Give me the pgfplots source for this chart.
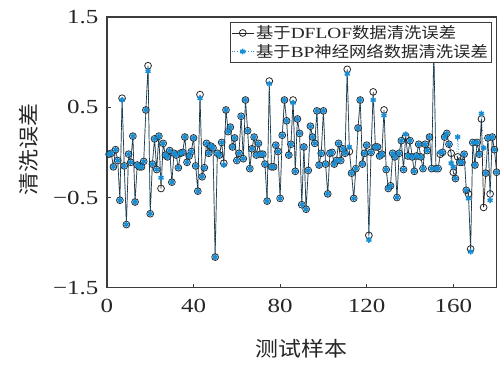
\documentclass[border=0pt]{standalone}
\usepackage{pgfplots}
\pgfplotsset{compat=1.18}
\usepackage{pgfplotstable}
\usepackage{fontspec}
\setmainfont{Liberation Serif}[FakeStretch=1.25]
\newfontfamily\cjk{Noto Sans CJK SC}[FakeStretch=1.12]
\definecolor{axgray}{RGB}{60,60,60}
\definecolor{mblue}{RGB}{25,140,210}
\pgfplotstableread{
x a b
1 -0.02 -0.02
2 -0.01 -0.01
3 -0.16 -0.16
4 0.03 0.03
5 -0.09 -0.09
6 -0.53 -0.53
7 0.60 0.58
8 -0.15 -0.15
9 -0.80 -0.80
10 -0.02 -0.02
11 -0.11 -0.11
12 0.18 0.18
13 -0.55 -0.55
14 -0.14 -0.14
15 -0.16 -0.16
16 -0.16 -0.16
17 -0.10 -0.10
18 0.47 0.47
19 0.96 0.90
20 -0.68 -0.68
21 -0.13 -0.13
22 0.15 0.15
23 -0.19 -0.19
24 0.18 0.18
25 -0.40 -0.28
26 0.10 0.10
27 -0.03 -0.03
28 -0.05 -0.05
29 0.02 0.02
30 -0.33 -0.33
31 -0.01 -0.01
32 -0.03 -0.03
33 -0.17 -0.17
34 -0.01 -0.01
35 0.00 0.00
36 0.17 0.17
37 -0.11 -0.11
38 -0.04 -0.04
39 0.01 0.01
40 0.16 0.16
41 -0.15 -0.15
42 -0.43 -0.43
43 0.64 0.60
44 -0.27 -0.27
45 -0.17 -0.17
46 0.10 0.10
47 -0.01 -0.01
48 0.07 0.07
49 0.05 0.05
50 -1.16 -1.16
51 -0.01 -0.01
52 -0.03 -0.03
53 0.11 0.11
54 -0.12 -0.14
55 0.47 0.47
56 0.23 0.23
57 0.28 0.28
58 0.06 0.06
59 0.16 0.16
60 -0.09 -0.09
61 -0.01 -0.01
62 0.40 0.40
63 -0.07 -0.07
64 0.58 0.58
65 0.24 0.24
66 -0.18 -0.18
67 0.04 0.04
68 0.17 0.17
69 -0.03 -0.03
70 0.10 0.10
71 -0.02 -0.02
72 -0.02 -0.02
73 -0.13 -0.13
74 -0.54 -0.54
75 0.79 0.76
76 -0.16 -0.16
77 -0.16 -0.16
78 0.08 0.08
79 0.01 0.01
80 -0.51 -0.51
81 0.19 0.19
82 0.58 0.58
83 0.35 0.35
84 -0.03 -0.03
85 0.09 0.09
86 0.58 0.55
87 -0.21 -0.21
88 0.37 0.37
89 0.21 0.21
90 -0.58 -0.58
91 0.06 0.06
92 -0.63 -0.63
93 -0.20 -0.20
94 0.29 0.29
95 0.17 0.17
96 0.10 0.10
97 0.46 0.46
98 -0.14 -0.14
99 -0.01 -0.01
100 0.46 0.46
101 -0.13 -0.13
102 -0.46 -0.46
103 -0.01 -0.01
104 0.00 0.00
105 -0.13 -0.13
106 -0.09 -0.09
107 0.10 0.10
108 -0.09 -0.09
109 0.04 0.04
110 -0.01 -0.01
111 0.92 0.87
112 0.01 0.06
113 -0.23 -0.23
114 -0.51 -0.51
115 -0.18 -0.18
116 0.27 0.27
117 0.58 0.58
118 -0.13 -0.13
119 -0.01 -0.01
120 0.08 0.08
121 -0.92 -0.97
122 0.00 0.00
123 0.67 0.58
124 0.06 0.06
125 0.06 0.06
126 -0.04 -0.04
127 -0.02 -0.02
128 0.47 0.41
129 -0.19 -0.19
130 -0.40 -0.40
131 -0.37 -0.37
132 -0.01 -0.01
133 -0.05 -0.05
134 -0.50 -0.50
135 -0.01 -0.01
136 0.13 0.13
137 -0.19 -0.19
138 0.18 0.20
139 -0.04 -0.04
140 0.13 0.13
141 -0.05 -0.05
142 -0.21 -0.21
143 -0.04 -0.04
144 0.09 0.09
145 -0.05 -0.05
146 -0.18 -0.18
147 0.09 0.09
148 0.02 0.02
149 0.17 0.17
150 -0.18 -0.18
151 1.15 1.15
152 -0.18 -0.18
153 -0.18 -0.18
154 -0.02 0.00
155 0.00 0.00
156 0.17 0.17
157 0.21 0.21
158 0.09 0.09
159 -0.01 -0.12
160 -0.22 -0.16
161 -0.29 -0.29
162 -0.05 0.17
163 -0.11 -0.11
164 -0.11 -0.11
165 -0.02 -0.02
166 -0.42 -0.42
167 -0.46 -0.51
168 -1.07 -1.10
169 0.11 0.11
170 -0.14 -0.14
171 0.11 0.11
172 -0.02 -0.02
173 0.37 0.43
174 -0.61 0.05
175 -0.23 -0.23
176 0.16 0.16
177 -0.46 -0.53
178 0.17 0.17
179 0.03 0.03
180 -0.22 -0.22
}\errdata
\begin{document}
\begin{tikzpicture}
\path (-107pt,-79pt) rectangle (393pt,288pt);
\begin{axis}[
  at={(0pt,0pt)}, anchor=south west,
  scale only axis, width=390pt, height=271pt,
  xmin=0, xmax=180, ymin=-1.5, ymax=1.5,
  xtick={0,40,80,120,160}, xticklabels={0,40,80,120,160},
  ytick={-1.5,-0.5,0.5,1.5}, yticklabels={−1.5,−0.5,0.5,1.5},
  tick align=inside, xtick pos=bottom, ytick pos=left,
  major tick length=4pt,
  axis line style={axgray, line width=1.2pt},
  every tick/.style={axgray, line width=1pt},
  ticklabel style={font=\fontsize{20}{24}\selectfont, text=black!85},
  xticklabel style={yshift=-8pt},
  yticklabel style={xshift=-5pt},
  xlabel={\cjk 测试样本},
  ylabel={\cjk 清洗误差},
  label style={font=\fontsize{20.5}{24}\selectfont, text=black!85},
  xlabel style={at={(axis description cs:0.5,0)}, anchor=center, yshift=-61pt},
  ylabel style={at={(axis description cs:-0.2,0.51)}, anchor=center},
  legend style={at={(1,1)}, anchor=north east, xshift=-5pt, yshift=-5pt,
    draw=axgray, fill=white, font=\fontsize{15.5}{17.5}\selectfont,
    inner sep=1.5pt, row sep=0pt, text=black!85},
  legend cell align=left,
  legend image code/.code={\draw[mark repeat=2,mark phase=2] plot coordinates {(0pt,0pt) (11pt,0pt) (22pt,0pt)};},
]
\addplot[black!85, line width=0.7pt, mark=o, mark size=3.4pt, mark options={line width=0.8pt, solid}] table[x=x,y=a] {\errdata};
\addlegendentry{{\cjk 基于}DFLOF{\cjk 数据清洗误差}}
\addplot[mblue, dotted, line width=0.7pt, mark=asterisk, mark size=2.9pt, mark options={line width=1.5pt, solid}] table[x=x,y=b] {\errdata};
\addlegendentry{{\cjk 基于}BP{\cjk 神经网络数据清洗误差}}
\end{axis}
\end{tikzpicture}
\end{document}
